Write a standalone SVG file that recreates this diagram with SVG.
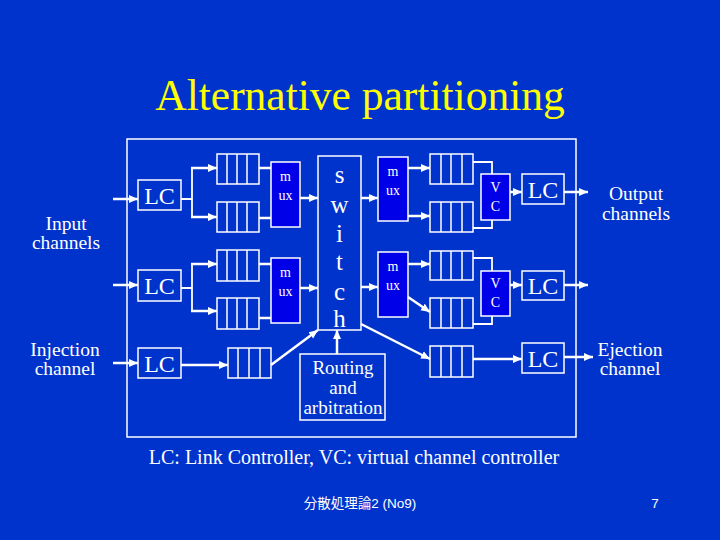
<svg xmlns="http://www.w3.org/2000/svg" width="720" height="540" viewBox="0 0 720 540">
<style>
.box{fill:none;stroke:#fff;stroke-width:1.5}
.mux{fill:#0000E8;stroke:#fff;stroke-width:1.5}
.div{stroke:#fff;stroke-width:1.5}
.t{font-family:"Liberation Serif","Times New Roman",serif;fill:#fff;text-anchor:middle}
.lbl{font-size:19.5px}
.a{fill:none;stroke:#fff;stroke-width:2.5}
.l{fill:none;stroke:#fff;stroke-width:1.8}
</style>
<defs>
<marker id="ah" markerUnits="userSpaceOnUse" markerWidth="10" markerHeight="10" refX="9" refY="5" orient="auto">
<path d="M0,1 L9,5 L0,9 Z" fill="#fff"/>
</marker>
</defs>
<rect width="720" height="540" fill="#0033CC"/>
<text x="360" y="110" font-family="Liberation Serif,serif" font-size="43.5" fill="#FFFF00" text-anchor="middle">Alternative partitioning</text>
<rect id="frame" x="127" y="139" width="449" height="298" class="box"/>

<g id="input-label"><text class="t lbl" x="66" y="230">Input</text><text class="t lbl" x="66" y="249">channels</text></g>
<g id="injection-label"><text class="t lbl" x="65" y="356">Injection</text><text class="t lbl" x="65" y="375">channel</text></g>
<g id="output-label"><text class="t lbl" x="636" y="200">Output</text><text class="t lbl" x="636" y="220">channels</text></g>
<g id="ejection-label"><text class="t lbl" x="630" y="356">Ejection</text><text class="t lbl" x="630" y="375">channel</text></g>

<g id="lc1"><rect class="box" x="138" y="180" width="43" height="30"/><text class="t" font-size="24" x="159.5" y="204">LC</text></g>
<g id="lc2"><rect class="box" x="138" y="270" width="43" height="31"/><text class="t" font-size="24" x="159.5" y="294">LC</text></g>
<g id="lc3"><rect class="box" x="138" y="348" width="43" height="30"/><text class="t" font-size="24" x="159.5" y="372">LC</text></g>

<g id="q1"><rect class="box" x="217" y="154" width="42" height="30"/><path class="div" d="M227,154V184M237,154V184M247,154V184"/></g>
<g id="q2"><rect class="box" x="217" y="202" width="42" height="30"/><path class="div" d="M227,202V232M237,202V232M247,202V232"/></g>
<g id="q3"><rect class="box" x="217" y="250" width="42" height="31"/><path class="div" d="M227,250V281M237,250V281M247,250V281"/></g>
<g id="q4"><rect class="box" x="217" y="298" width="42" height="31"/><path class="div" d="M227,298V329M237,298V329M247,298V329"/></g>
<g id="q5"><rect class="box" x="228" y="348" width="43" height="30"/><path class="div" d="M238,348V378M249,348V378M260,348V378"/></g>

<g id="mux1"><rect class="mux" x="271" y="162" width="29" height="65"/><text class="t" font-size="14" x="285.5" y="181">m</text><text class="t" font-size="14" x="285.5" y="200">ux</text></g>
<g id="mux2"><rect class="mux" x="271" y="258" width="29" height="65"/><text class="t" font-size="14" x="285.5" y="277">m</text><text class="t" font-size="14" x="285.5" y="296">ux</text></g>

<g id="switch"><rect class="box" x="318" y="156" width="43" height="174"/>
<text class="t" font-size="25" x="339.5" y="183">s</text>
<text class="t" font-size="25" x="339.5" y="213">w</text>
<text class="t" font-size="25" x="339.5" y="242">i</text>
<text class="t" font-size="25" x="339.5" y="270">t</text>
<text class="t" font-size="25" x="339.5" y="300">c</text>
<text class="t" font-size="25" x="339.5" y="327">h</text></g>

<g id="routing"><rect class="box" x="300" y="354" width="85" height="66"/>
<text class="t" font-size="19" x="343" y="374">Routing</text>
<text class="t" font-size="19" x="343" y="394">and</text>
<text class="t" font-size="19" x="343" y="414">arbitration</text></g>

<g id="mux3"><rect class="mux" x="378" y="157" width="30" height="64"/><text class="t" font-size="14" x="393" y="176">m</text><text class="t" font-size="14" x="393" y="195">ux</text></g>
<g id="mux4"><rect class="mux" x="378" y="252" width="30" height="65"/><text class="t" font-size="14" x="393" y="271">m</text><text class="t" font-size="14" x="393" y="290">ux</text></g>

<g id="q6"><rect class="box" x="430" y="154" width="43" height="30"/><path class="div" d="M441,154V184M451,154V184M462,154V184"/></g>
<g id="q7"><rect class="box" x="430" y="202" width="43" height="30"/><path class="div" d="M441,202V232M451,202V232M462,202V232"/></g>
<g id="q8"><rect class="box" x="430" y="251" width="43" height="29"/><path class="div" d="M441,251V280M451,251V280M462,251V280"/></g>
<g id="q9"><rect class="box" x="430" y="298" width="43" height="30"/><path class="div" d="M441,298V328M451,298V328M462,298V328"/></g>
<g id="q10"><rect class="box" x="430" y="346" width="43" height="31"/><path class="div" d="M441,346V377M451,346V377M462,346V377"/></g>

<g id="vc1"><rect class="mux" x="481" y="174" width="29" height="46"/><text class="t" font-size="14" x="495.5" y="192">V</text><text class="t" font-size="14" x="495.5" y="211">C</text></g>
<g id="vc2"><rect class="mux" x="481" y="271" width="29" height="45"/><text class="t" font-size="14" x="495.5" y="288">V</text><text class="t" font-size="14" x="495.5" y="307">C</text></g>

<g id="lc4"><rect class="box" x="522" y="174" width="42" height="30"/><text class="t" font-size="24" x="543" y="198">LC</text></g>
<g id="lc5"><rect class="box" x="522" y="271" width="42" height="29"/><text class="t" font-size="24" x="543" y="294">LC</text></g>
<g id="lc6"><rect class="box" x="522" y="343" width="42" height="30"/><text class="t" font-size="24" x="543" y="367">LC</text></g>

<g id="connectors">
<path class="a" marker-end="url(#ah)" d="M113,199H138"/>
<path class="a" marker-end="url(#ah)" d="M113,285H138"/>
<path class="a" marker-end="url(#ah)" d="M113,363H138"/>
<path class="l" d="M181,199H192M192,168V217"/>
<path class="a" marker-end="url(#ah)" d="M191,168H217"/>
<path class="a" marker-end="url(#ah)" d="M191,217H217"/>
<path class="a" d="M259,168H271M259,218H271"/>
<path class="a" marker-end="url(#ah)" d="M300,198H318"/>
<path class="l" d="M181,288H192M192,264V311"/>
<path class="a" marker-end="url(#ah)" d="M191,264H217"/>
<path class="a" marker-end="url(#ah)" d="M191,311H217"/>
<path class="a" d="M259,264H271M259,318H271"/>
<path class="a" marker-end="url(#ah)" d="M300,288H318"/>
<path class="a" marker-end="url(#ah)" d="M181,365H228"/>
<path class="a" marker-end="url(#ah)" d="M271,365L318,330"/>
<path class="a" marker-end="url(#ah)" d="M337,354V330"/>
<path class="a" marker-end="url(#ah)" d="M361,198H378"/>
<path class="a" marker-end="url(#ah)" d="M361,287H378"/>
<path class="a" marker-end="url(#ah)" d="M361,324L430,359"/>
<path class="a" marker-end="url(#ah)" d="M408,168H430"/>
<path class="a" marker-end="url(#ah)" d="M408,216H430"/>
<path class="l" d="M473,162H492V174M473,228H492V220"/>
<path class="a" marker-end="url(#ah)" d="M510,192H522"/>
<path class="a" marker-end="url(#ah)" d="M564,192H588"/>
<path class="a" marker-end="url(#ah)" d="M408,264H430"/>
<path class="a" marker-end="url(#ah)" d="M408,297L430,312"/>
<path class="l" d="M473,258H492V271M473,324H492V316"/>
<path class="a" marker-end="url(#ah)" d="M510,285H522"/>
<path class="a" marker-end="url(#ah)" d="M564,285H588"/>
<path class="a" marker-end="url(#ah)" d="M473,359H522"/>
<path class="a" marker-end="url(#ah)" d="M564,357H593"/>
</g>

<text class="t" font-size="20" x="354" y="464">LC: Link Controller, VC: virtual channel controller</text>
<text x="360" y="508" font-family="Liberation Sans,Noto Sans CJK JP,sans-serif" font-size="13.5" fill="#fff" text-anchor="middle">分散処理論2 (No9)</text>
<text x="655" y="508" font-family="Liberation Sans,sans-serif" font-size="13.5" fill="#fff" text-anchor="middle">7</text>
</svg>
